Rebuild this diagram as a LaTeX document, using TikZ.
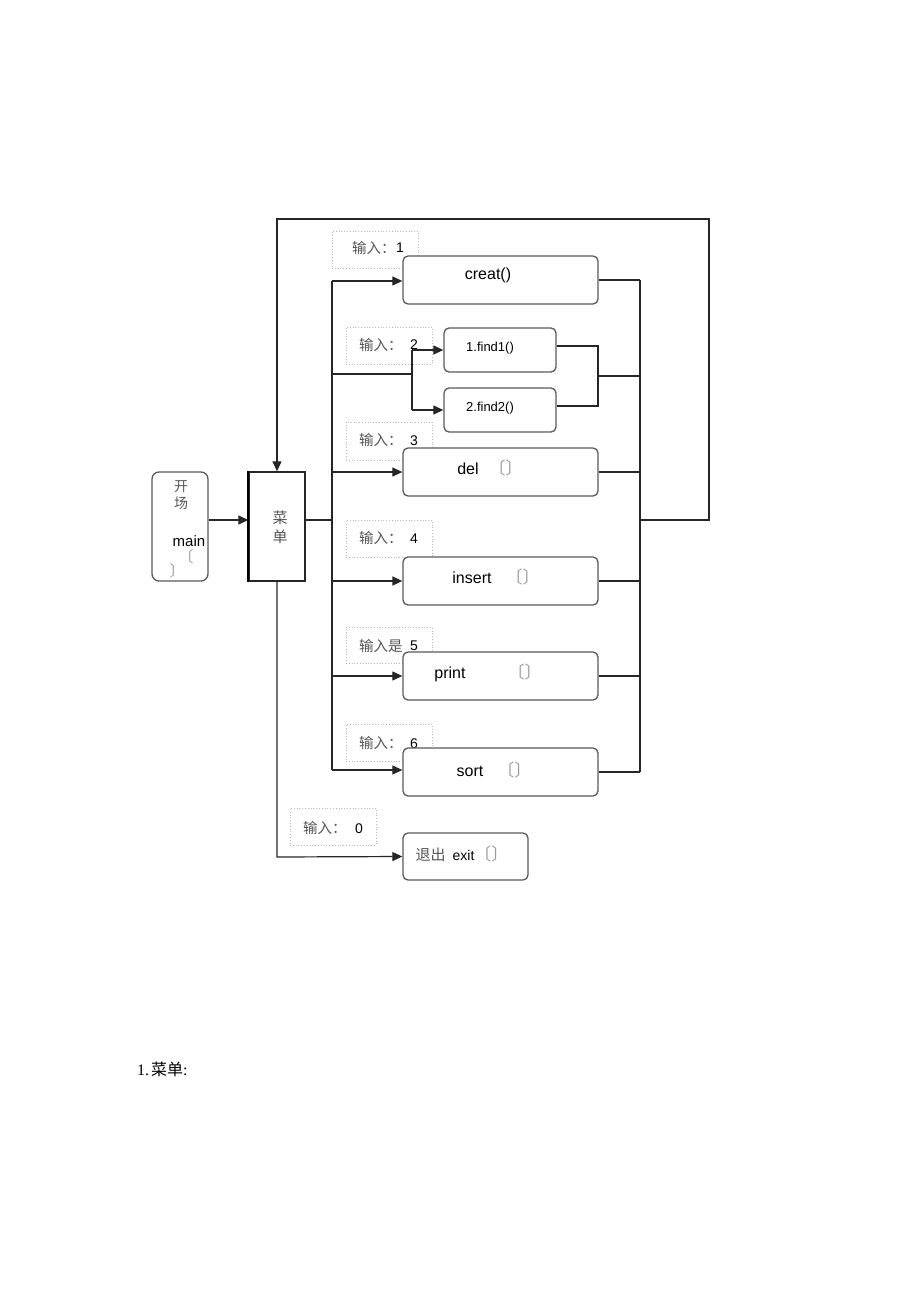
\documentclass[tikz,border=0pt]{standalone}
\usepackage{fontspec}
\setmainfont{Liberation Sans}
\newfontfamily\cjk{Noto Sans CJK SC}
\newfontfamily\serif{Liberation Serif}
\usetikzlibrary{arrows.meta}
\definecolor{boxline}{HTML}{5A5A5A}
\definecolor{lblline}{HTML}{B8B8B8}
\definecolor{lbltext}{HTML}{555555}
\definecolor{brk}{HTML}{9A9A9A}
\tikzset{
  func/.style={draw=boxline, line width=1.3pt, rounded corners=5pt, fill=white, inner sep=0pt},
  lbl/.style={draw=lblline, dotted, line width=0.8pt, inner sep=0pt},
  conn/.style={draw=black!85, line width=1.2pt},
  arr/.style={conn, -{Triangle[length=10pt,width=9pt]}},
  ftxt/.style={font=\fontsize{16}{18}\selectfont, text=black, inner sep=0pt},
  ltxt/.style={font=\cjk\fontsize{14.5}{16}\selectfont, text=lbltext, inner sep=0pt, anchor=west},
  ntxt/.style={font=\fontsize{14}{16}\selectfont, text=black, inner sep=0pt, anchor=west},
  ctxt/.style={font=\cjk\fontsize{14}{16}\selectfont, text=lbltext, inner sep=0pt},
}
\newcommand{\brkt}{{\cjk\fontsize{17}{19}\selectfont\color{brk}〔〕}}
\begin{document}
\begin{tikzpicture}[x=1pt,y=-1pt]
\useasboundingbox[fill=white] (0,0) rectangle (920,1303);

% input labels (behind)
\node[lbl, minimum width=86pt, minimum height=37pt] (l1) at (375,249.5) {};
\node[ltxt] (l1a) at (352,248) {输入：};
\node[ntxt] (l1b) at (396,248) {1};
\node[lbl, minimum width=86pt, minimum height=37pt] (l2) at (389,345.5) {};
\node[ltxt] (l2a) at (359,345) {输入：};
\node[ntxt] (l2b) at (410,345) {2};
\node[lbl, minimum width=86pt, minimum height=38pt] (l3) at (389,441) {};
\node[ltxt] (l3a) at (359,440) {输入：};
\node[ntxt] (l3b) at (410,441) {3};
\node[lbl, minimum width=86pt, minimum height=37pt] (l4) at (389,538.5) {};
\node[ltxt] (l4a) at (359,538) {输入：};
\node[ntxt] (l4b) at (410,539) {4};
\node[lbl, minimum width=86pt, minimum height=36pt] (l5) at (389,645) {};
\node[ltxt] (l5a) at (359,646) {输入是};
\node[ntxt] (l5b) at (410,646) {5};
\node[lbl, minimum width=86pt, minimum height=37pt] (l6) at (389,742.5) {};
\node[ltxt] (l6a) at (359,743) {输入：};
\node[ntxt] (l6b) at (410,744) {6};
\node[lbl, minimum width=86pt, minimum height=37pt] (l0) at (333,826.5) {};
\node[ltxt] (l0a) at (303,828) {输入：};
\node[ntxt] (l0b) at (355,829) {0};

% start and menu
\node[func, rounded corners=7pt, minimum width=56pt, minimum height=109pt] (start) at (180,526.5) {};
\node[ctxt] (s1) at (181,487) {开};
\node[ctxt] (s2) at (181,503) {场};
\node[font=\fontsize{15}{17}\selectfont, inner sep=0pt] (s3) at (189,541) {main};
\node[font=\cjk\fontsize{15}{17}\selectfont, text=brk, inner sep=0pt] (s4) at (186,557) {〔};
\node[font=\cjk\fontsize{15}{17}\selectfont, text=brk, inner sep=0pt] (s5) at (177,571) {〕};

\node[draw=black!85, line width=1.3pt, fill=white, minimum width=56pt, minimum height=109pt, inner sep=0pt] (menu) at (277,526.5) {};
\draw[black, line width=2.2pt] (menu.north west) -- (menu.south west);
\node[ctxt, font=\cjk\fontsize{15}{17}\selectfont] (m1) at (280,518) {菜};
\node[ctxt, font=\cjk\fontsize{15}{17}\selectfont] (m2) at (280,537) {单};

% function boxes
\node[func, minimum width=195pt, minimum height=48pt] (creat) at (500.5,280) {};
\node[ftxt] at (488,275) {creat()};
\node[func, minimum width=112pt, minimum height=44pt] (find1) at (500,350) {};
\node[ftxt, font=\fontsize{13}{15}\selectfont] at (490,348) {1.find1()};
\node[func, minimum width=112pt, minimum height=44pt] (find2) at (500,410) {};
\node[ftxt, font=\fontsize{13}{15}\selectfont] at (490,408) {2.find2()};
\node[func, minimum width=195pt, minimum height=48pt] (del) at (500.5,472) {};
\node[ftxt] at (490,468) {del\hspace{10pt}\brkt};
\node[func, minimum width=195pt, minimum height=48pt] (insert) at (500.5,581) {};
\node[ftxt] at (496,577) {insert\hspace{14pt}\brkt};
\node[func, minimum width=195pt, minimum height=48pt] (print) at (500.5,676) {};
\node[ftxt] at (488,673) {print\hspace{42pt}\brkt};
\node[func, minimum width=195pt, minimum height=48pt] (sort) at (500.5,772) {};
\node[ftxt] at (494,770) {sort\hspace{14pt}\brkt};
\node[func, minimum width=125pt, minimum height=47pt] (exit) at (465.5,856.5) {};
\node[ftxt, font=\fontsize{14}{16}\selectfont] at (462,854) {{\cjk\fontsize{15}{17}\selectfont\color{lbltext}退出}\hspace{7pt}exit\brkt};

% coordinates for buses
\coordinate (lbTop) at (332,281);
\coordinate (lbBot) at (332,770);
\coordinate (rbTop) at (640,280);
\coordinate (rbBot) at (640,772);
\coordinate (rbMid) at (640,520);
\coordinate (fj) at (412,374);
\coordinate (fr) at (598,376);

% left side
\draw[arr] ([yshift=6.5pt]start.east) -- ([yshift=6.5pt]menu.west);
\draw[conn] ([yshift=6.5pt]menu.east) -- (332,520);
\draw[conn] (lbBot) -- (lbTop);
\draw[arr] (lbTop) -- (creat.west |- lbTop);
\draw[conn, line width=2pt] (332,374) -- (fj);
\draw[conn] (fj |- find1.west) -- (fj |- find2.west);
\draw[arr] (fj |- find1.west) -- (find1.west);
\draw[arr] (fj |- find2.west) -- (find2.west);
\draw[arr] (332,472) -- (del.west);
\draw[arr, line width=1.6pt] (332,581) -- (insert.west);
\draw[arr] (332,676) -- (print.west);
\draw[arr] (lbBot) -- (sort.west |- lbBot);

% top loop and exit
\draw[arr] (rbMid) -- (709,520) -- (709,219) -- (277,219) -- (menu.north);
\draw[arr] (menu.south) -- (277,857) -- (exit.west);

% right side
\draw[conn] (rbTop) -- (rbBot);
\draw[conn] (creat.east) -- (rbTop);
\draw[conn] (find1.east |- 0,346) -- (598,346) -- (598,406) -- (find2.east |- 0,406);
\draw[conn] (fr) -- (640,376);
\draw[conn] (del.east) -- (640,472);
\draw[conn, line width=2pt] (insert.east) -- (640,581);
\draw[conn] (print.east) -- (640,676);
\draw[conn] (sort.east) -- (rbBot);

% caption
\node[anchor=west, inner sep=0pt, font=\fontsize{16}{18}\selectfont] (cap) at (137,1069) {{\serif 1.}\hspace{2pt}{\cjk 菜单}{\serif :}};
\end{tikzpicture}
\end{document}
